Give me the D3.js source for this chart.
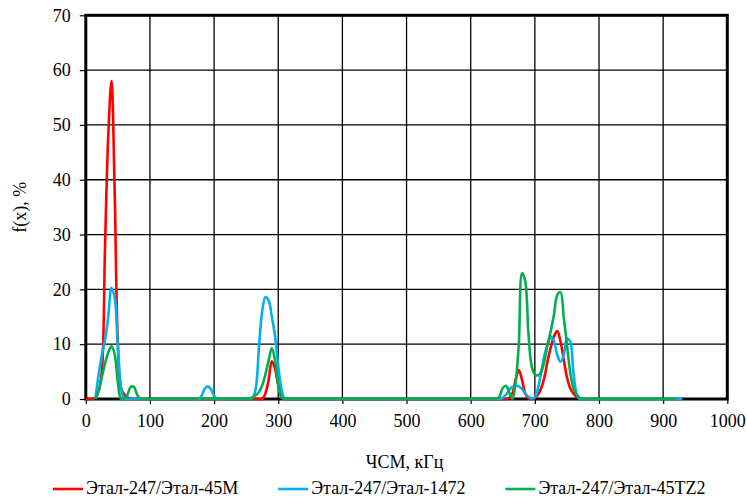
<!DOCTYPE html>
<html>
<head>
<meta charset="utf-8">
<script src="https://cdn.jsdelivr.net/npm/d3@7"></script>
<style>
  body { margin: 0; background: #fff; }
  text { font-family: "Liberation Serif", "Times New Roman", serif; fill: #000; }
</style>
</head>
<body>
<svg id="chart" width="747" height="500"></svg>
<script>
// Axis ticks
const xTickValues = [0, 100, 200, 300, 400, 500, 600, 700, 800, 900, 1000];
const yTickValues = [0, 10, 20, 30, 40, 50, 60, 70];

// Series names and colours
const seriesNames = ["Этал-247/Этал-45М", "Этал-247/Этал-1472", "Этал-247/Этал-45TZ2"];
const seriesColors = ["#ff0000", "#00b0f0", "#00b050"];

// Этал-247/Этал-45М : frequency (kHz) and f(x) (%)
const redFreq = [0, 5, 10, 15, 20, 25, 30, 35, 40, 45, 50, 55, 60, 65, 70, 75,
  270, 275, 280, 285, 290, 295, 300, 305, 310, 315,
  650, 655, 660, 665, 670, 675, 680, 685, 690, 695, 700, 705, 710, 715, 720, 725,
  730, 735, 740, 745, 750, 755, 760, 765, 770, 775, 780];
const redVal = [0, 0, 0, 0.3, 1.5, 5, 28, 48, 58, 38, 10, 2, 0.8, 0.3, 0, 0,
  0, 0, 1, 3.5, 6.9, 5.5, 2.5, 0.5, 0, 0,
  0, 0, 0.2, 1, 3.5, 5.3, 3.5, 1, 0.1, 0, 0.2, 0.8, 2, 4, 7, 9.5,
  11.5, 12.4, 10.5, 7.2, 4, 2, 1, 0.4, 0.1, 0, 0];

// Этал-247/Этал-1472
const blueFreq = [15, 20, 25, 30, 35, 40, 45, 50, 55, 60, 65,
  170, 175, 180, 185, 190, 195, 200, 205, 210,
  250, 255, 260, 265, 270, 275, 280, 285, 290, 295, 300, 305, 310, 315,
  640, 645, 650, 655, 660, 665, 670, 675, 680, 685, 690, 695, 700, 705, 710, 715,
  720, 725, 730, 735, 740, 745, 750, 755, 760, 765, 770, 775, 930];
const blueVal = [0, 4.5, 8, 10.8, 15, 20.3, 18.5, 9.5, 2, 0, 0,
  0, 0, 0.5, 1.8, 2.3, 1.8, 0.6, 0, 0,
  0, 0, 0.2, 2, 9.5, 16, 18.6, 18, 15, 11.5, 6, 1.8, 0, 0,
  0, 0, 0.2, 0.8, 1.6, 2.2, 2.4, 2.3, 1.8, 1, 0.4, 0.1, 0.3, 2, 5, 8,
  10, 11.4, 10.5, 8, 6.8, 8, 11, 10.5, 5, 1, 0, 0, 0];

// Этал-247/Этал-45TZ2
const greenFreq = [15, 20, 25, 30, 35, 40, 45, 50, 55, 60, 65, 70, 75, 80, 85, 90,
  245, 250, 255, 260, 265, 270, 275, 280, 285, 290, 295, 300, 305, 310, 315,
  635, 640, 645, 650, 655, 660, 665, 670, 675, 680, 685, 690, 695, 700, 705,
  710, 715, 720, 725, 730, 735, 740, 745, 750, 755, 760, 765, 770, 775, 780, 920];
const greenVal = [0, 1.5, 4, 6.5, 8.5, 9.6, 8.2, 3, 0, 0, 0.8, 2.2, 2.2, 0.8, 0, 0,
  0, 0, 0.1, 0.3, 0.7, 1.3, 2.5, 4.5, 7, 9.3, 7, 2.5, 0.3, 0, 0,
  0, 0, 0.5, 2, 2.4, 1.2, 0, 3, 10, 23, 21.5, 12, 6, 4.5, 4.3,
  5, 7, 10, 12.5, 15.5, 19, 19.5, 15, 10, 5, 2, 0.8, 0.2, 0, 0, 0];

const seriesFreq = [redFreq, blueFreq, greenFreq];
const seriesVal = [redVal, blueVal, greenVal];

const svg = d3.select("#chart");
const plot = { left: 85.8, right: 727.3, top: 15.3, bottom: 399 };

const x = d3.scaleLinear().domain([0, 1000]).range([plot.left, plot.right]);
const y = d3.scaleLinear().domain([0, 70]).range([plot.bottom, plot.top]);

// Grid
const grid = svg.append("g");
grid.selectAll("line.v")
  .data(xTickValues.slice(1, -1))
  .join("line")
  .attr("x1", d => x(d)).attr("x2", d => x(d))
  .attr("y1", plot.top).attr("y2", plot.bottom)
  .attr("stroke", "#000").attr("stroke-width", 1.3);
grid.selectAll("line.h")
  .data(yTickValues.slice(1, -1))
  .join("line")
  .attr("x1", plot.left).attr("x2", plot.right)
  .attr("y1", d => y(d)).attr("y2", d => y(d))
  .attr("stroke", "#000").attr("stroke-width", 1.3);

// Axes
const yAxis = svg.append("g")
  .attr("transform", `translate(${plot.left},0)`)
  .call(d3.axisLeft(y).tickValues(yTickValues).tickFormat(d3.format("d"))
    .tickSize(6).tickPadding(9).tickSizeOuter(0));
const xAxis = svg.append("g")
  .attr("transform", `translate(0,${plot.bottom})`)
  .call(d3.axisBottom(x).tickValues(xTickValues).tickFormat(d3.format("d"))
    .tickSize(5).tickPadding(10).tickSizeOuter(0));
[xAxis, yAxis].forEach(a => {
  a.attr("font-family", null);
  a.select(".domain").remove();
  a.selectAll(".tick line").attr("stroke", "#000").attr("stroke-width", 1.2);
  a.selectAll(".tick text").attr("font-size", 18).attr("fill", "#000")
    .style("font-family", '"Liberation Serif", serif');
});

// Plot frame
svg.append("rect")
  .attr("x", plot.left).attr("y", plot.top)
  .attr("width", plot.right - plot.left).attr("height", plot.bottom - plot.top)
  .attr("fill", "none").attr("stroke", "#000").attr("stroke-width", 3);

// Series lines
const line = d3.line()
  .x(d => x(d[0]))
  .y(d => y(d[1]))
  .curve(d3.curveCatmullRom.alpha(0.5));

seriesNames.forEach((name, i) => {
  const pts = seriesFreq[i].map((f, j) => [f, seriesVal[i][j]]);
  svg.append("path")
    .datum(pts)
    .attr("d", line)
    .attr("fill", "none")
    .attr("stroke", seriesColors[i])
    .attr("stroke-width", 2.6)
    .attr("stroke-linejoin", "round");
});

// Axis titles
svg.append("text")
  .attr("x", (plot.left + plot.right) / 2 - 2)
  .attr("y", 468)
  .attr("text-anchor", "middle")
  .attr("font-size", 18)
  .text("ЧСМ, кГц");
svg.append("text")
  .attr("transform", `translate(26,${(plot.top + plot.bottom) / 2}) rotate(-90)`)
  .attr("text-anchor", "middle")
  .attr("font-size", 18)
  .text("f(x), %");

// Legend
const legend = svg.append("g");
let lx = 53;
seriesNames.forEach((name, i) => {
  legend.append("line")
    .attr("x1", lx).attr("x2", lx + 30)
    .attr("y1", 489).attr("y2", 489)
    .attr("stroke", seriesColors[i]).attr("stroke-width", 2.6);
  const t = legend.append("text")
    .attr("x", lx + 33).attr("y", 494)
    .attr("font-size", 18)
    .text(name);
  lx = lx + 33 + t.node().getComputedTextLength() + 40;
});
</script>
</body>
</html>
